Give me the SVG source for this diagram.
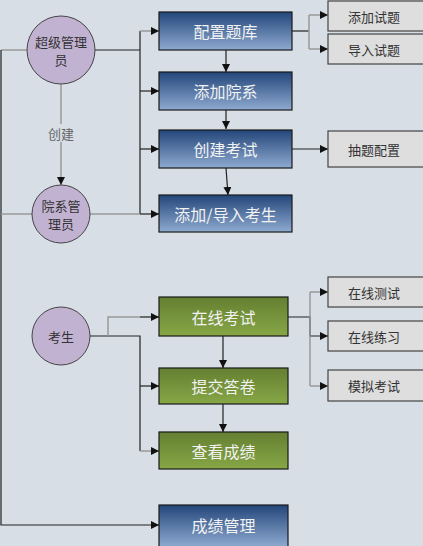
<svg xmlns="http://www.w3.org/2000/svg" width="423" height="546" viewBox="0 0 423 546">
<defs>
<linearGradient id="gBlue" x1="0" y1="0" x2="0" y2="1">
<stop offset="0" stop-color="#23467a"/>
<stop offset="1" stop-color="#8eaad0"/>
</linearGradient>
<linearGradient id="gGreen" x1="0" y1="0" x2="0" y2="1">
<stop offset="0" stop-color="#647f31"/>
<stop offset="1" stop-color="#87a746"/>
</linearGradient>
<marker id="arr" viewBox="0 0 8 8" refX="8" refY="4" markerWidth="8" markerHeight="8" markerUnits="userSpaceOnUse" orient="auto">
<path d="M0,0 L8,4 L0,8 z" fill="#111"/>
</marker>
<style>
text{font-family:"Noto Sans CJK SC","Liberation Sans",sans-serif;text-anchor:middle;dominant-baseline:central}
.blue{fill:url(#gBlue);stroke:#1a1a1a;stroke-width:1.2}
.green{fill:url(#gGreen);stroke:#1a1a1a;stroke-width:1.2}
.gray{fill:#dedede;stroke:#444;stroke-width:1.2}
.circ{fill:#c2b2d2;stroke:#444;stroke-width:1}
.bt{fill:#f2f2f2;font-size:16px}
.gt{fill:#333;font-size:13px}
.ct{fill:#333;font-size:13px}
.d{fill:none;stroke:#222;stroke-width:1.2}
.g{fill:none;stroke:#999;stroke-width:1.5}
</style>
</defs>
<rect width="423" height="546" fill="#d7dee6"/>

<g id="connectors">
<path class="g" d="M27,50 H1"/>
<path class="d" d="M1,50 V525 H159" marker-end="url(#arr)"/>
<path class="d" d="M95,50 H140" stroke-width="2"/>
<path class="d" d="M140,31 V214"/>
<path class="g" d="M140,31 H159" marker-end="url(#arr)"/>
<path class="d" d="M140,91 H159" marker-end="url(#arr)"/>
<path class="d" d="M140,149 H159" marker-end="url(#arr)"/>
<path class="g" d="M90,214 H140"/>
<path class="d" d="M140,214 H159" marker-end="url(#arr)"/>
<path class="g" d="M32,214 H1"/>
<path class="g" d="M61,84 V124"/>
<path class="g" d="M61,142 V185" marker-end="url(#arr)"/>
<path class="d" d="M226,50 V72" marker-end="url(#arr)"/>
<path class="d" d="M226,110 V129" marker-end="url(#arr)"/>
<path class="d" d="M226,168 L228,195" marker-end="url(#arr)"/>
<path class="d" d="M292,31 H309" stroke-width="1.6"/>
<path class="g" d="M309,15 V49"/>
<path class="g" d="M309,15 H328" marker-end="url(#arr)"/>
<path class="g" d="M309,49 H328" marker-end="url(#arr)"/>
<path class="d" d="M292,149 H328" marker-end="url(#arr)"/>
<path class="d" d="M90,336 H140 V451"/>
<path class="g" d="M108,336 V317 H140"/>
<path class="d" d="M140,317 H159" marker-end="url(#arr)"/>
<path class="d" d="M140,386 H159" marker-end="url(#arr)"/>
<path class="g" d="M140,451 H159" marker-end="url(#arr)"/>
<path class="d" d="M223,336 V368" marker-end="url(#arr)"/>
<path class="d" d="M223,404 V432" marker-end="url(#arr)"/>
<path class="d" d="M288,317 H310 V336 H328" marker-end="url(#arr)"/>
<path class="g" d="M310,292 V386"/>
<path class="g" d="M310,292 H328" marker-end="url(#arr)"/>
<path class="g" d="M310,386 H328" marker-end="url(#arr)"/>
</g>

<g id="n_superadmin"><circle class="circ" cx="61" cy="50" r="34"/><text class="ct" x="61" y="41">超级管理</text><text class="ct" x="61" y="59">员</text></g>
<g id="l_create"><text x="61" y="133" style="fill:#666;font-size:13px">创建</text></g>
<g id="n_deptadmin"><circle class="circ" cx="61" cy="214" r="29"/><text class="ct" x="61" y="205">院系管</text><text class="ct" x="61" y="223">理员</text></g>
<g id="n_student"><circle class="circ" cx="61" cy="336" r="29"/><text class="ct" x="61" y="336">考生</text></g>

<g id="n_qbank"><rect class="blue" x="159" y="12" width="133" height="38"/><text class="bt" x="225.5" y="31">配置题库</text></g>
<g id="n_dept"><rect class="blue" x="159" y="72" width="133" height="38"/><text class="bt" x="225.5" y="91">添加院系</text></g>
<g id="n_exam"><rect class="blue" x="159" y="130" width="133" height="38"/><text class="bt" x="225.5" y="149">创建考试</text></g>
<g id="n_addstu"><rect class="blue" x="159" y="195" width="133" height="37"/><text class="bt" x="225.5" y="214">添加/导入考生</text></g>
<g id="n_score"><rect class="blue" x="159" y="505" width="129" height="42"/><text class="bt" x="223.5" y="525">成绩管理</text></g>

<g id="n_addq"><rect class="gray" x="328" y="1" width="96" height="30"/><text class="gt" x="374" y="16">添加试题</text></g>
<g id="n_impq"><rect class="gray" x="328" y="34" width="96" height="30"/><text class="gt" x="374" y="49">导入试题</text></g>
<g id="n_pick"><rect class="gray" x="328" y="131" width="96" height="36"/><text class="gt" x="374" y="149">抽题配置</text></g>

<g id="n_online"><rect class="green" x="159" y="297" width="129" height="39"/><text class="bt" x="223.5" y="316.5">在线考试</text></g>
<g id="n_submit"><rect class="green" x="159" y="368" width="129" height="36"/><text class="bt" x="223.5" y="386">提交答卷</text></g>
<g id="n_view"><rect class="green" x="159" y="432" width="129" height="37"/><text class="bt" x="223.5" y="450.5">查看成绩</text></g>

<g id="n_test"><rect class="gray" x="328" y="277" width="96" height="30"/><text class="gt" x="374" y="292">在线测试</text></g>
<g id="n_practice"><rect class="gray" x="328" y="321" width="96" height="30"/><text class="gt" x="374" y="336">在线练习</text></g>
<g id="n_mock"><rect class="gray" x="328" y="370" width="96" height="31"/><text class="gt" x="374" y="385.5">模拟考试</text></g>
</svg>
